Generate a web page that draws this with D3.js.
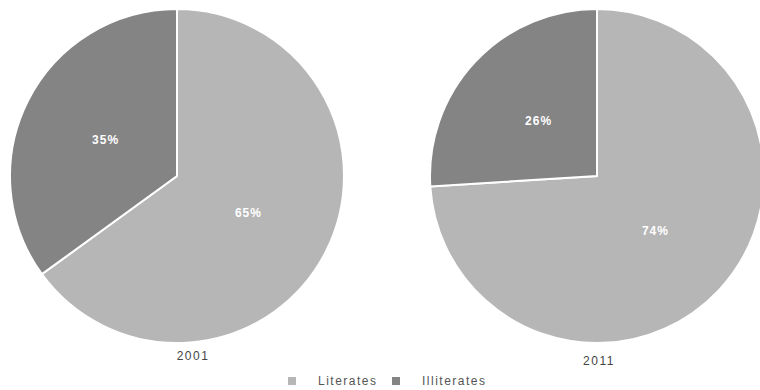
<!DOCTYPE html>
<html>
<head>
<meta charset="utf-8">
<script src="https://cdn.jsdelivr.net/npm/d3@7"></script>
<style>
  html, body { margin: 0; padding: 0; background: #fff; }
  svg { display: block; }
</style>
</head>
<body>
<svg id="chart" width="760" height="390"></svg>
<script>
// Literacy shares for two census years
const years = ["2001", "2011"];
const categories = ["Literates", "Illiterates"];
const literates = [65, 74];
const illiterates = [35, 26];

const colors = { Literates: "#b6b6b6", Illiterates: "#848484" };

const svg = d3.select("#chart");
const radius = 167;
const cy = 176;
const font = "Arial, 'Liberation Sans', sans-serif";

// Pie centres spread across the width
const xPos = d3.scalePoint().domain(years).range([177, 597]);

const pie = d3.pie().sort(null).value(d => d.value);
const arc = d3.arc().innerRadius(0).outerRadius(radius);
const labelArc = d3.arc().innerRadius(radius * 0.48).outerRadius(radius * 0.48);

years.forEach((yr, i) => {
  const data = [
    { key: "Literates", value: literates[i] },
    { key: "Illiterates", value: illiterates[i] }
  ];
  const g = svg.append("g").attr("transform", `translate(${xPos(yr)},${cy})`);
  const arcs = pie(data);

  g.selectAll("path.slice")
    .data(arcs)
    .join("path")
    .attr("class", "slice")
    .attr("d", arc)
    .attr("fill", d => colors[d.data.key])
    .attr("stroke", "#ffffff")
    .attr("stroke-width", 2);

  g.selectAll("text.pct")
    .data(arcs)
    .join("text")
    .attr("class", "pct")
    .attr("transform", d => `translate(${labelArc.centroid(d)})`)
    .attr("text-anchor", "middle")
    .attr("dy", "0.35em")
    .attr("fill", "#ffffff")
    .attr("font-family", font)
    .attr("font-size", 12)
    .attr("font-weight", "bold")
    .attr("letter-spacing", 1)
    .text(d => d.data.value + "%");

  svg.append("text")
    .attr("x", xPos(yr) + (i === 0 ? 16 : 2))
    .attr("y", cy + radius + (i === 0 ? 17 : 22))
    .attr("text-anchor", "middle")
    .attr("fill", "#444")
    .attr("font-family", font)
    .attr("font-size", 12)
    .attr("letter-spacing", 1.5)
    .text(yr);
});

// Legend
const legend = svg.append("g").attr("transform", "translate(288,381)");
const legendX = d3.scaleOrdinal().domain(categories).range([0, 104]);
categories.forEach(c => {
  const lg = legend.append("g").attr("transform", `translate(${legendX(c)},0)`);
  lg.append("rect")
    .attr("x", 0).attr("y", -4)
    .attr("width", 8).attr("height", 8)
    .attr("fill", colors[c]);
  lg.append("text")
    .attr("x", 30).attr("y", 0)
    .attr("dy", "0.35em")
    .attr("fill", "#555")
    .attr("font-family", font)
    .attr("font-size", 12)
    .attr("letter-spacing", 1.5)
    .text(c);
});
</script>
</body>
</html>
